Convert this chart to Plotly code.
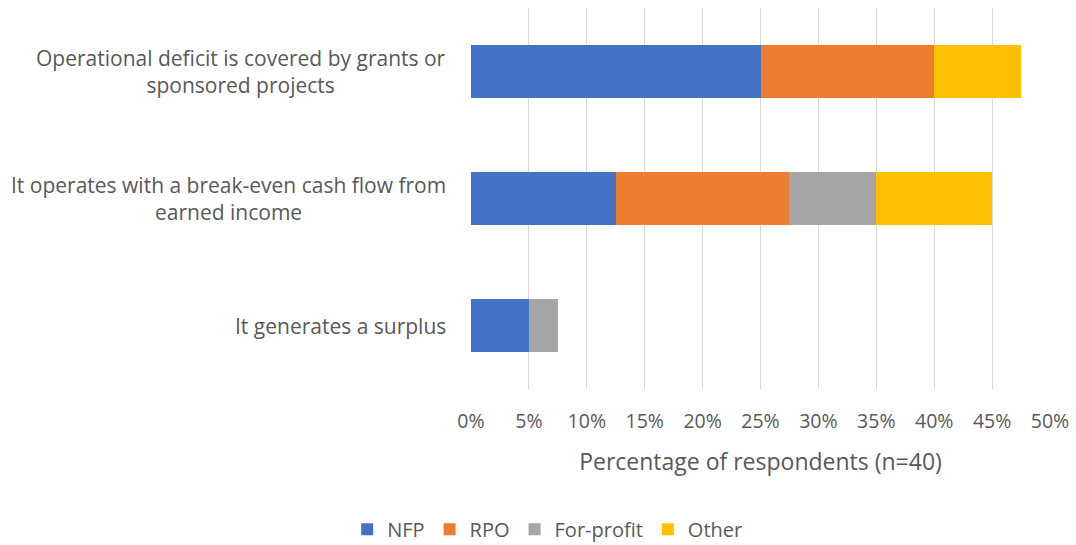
import plotly.graph_objects as go

# Survey responses, share of respondents (n=40)
categories = [
    "Operational deficit is covered by grants or<br>sponsored projects",
    "It operates with a break-even cash flow from<br>earned income",
    "It generates a surplus",
]
nfp = [0.25, 0.125, 0.05]
rpo = [0.15, 0.15, 0.0]
for_profit = [0.0, 0.075, 0.025]
other = [0.075, 0.10, 0.0]

series = [
    ("NFP", nfp, "#4472C4"),
    ("RPO", rpo, "#ED7D31"),
    ("For-profit", for_profit, "#A5A5A5"),
    ("Other", other, "#FFC000"),
]

FONT = "Open Sans"
GREY = "#595959"

fig = go.Figure()
for name, vals, color in series:
    fig.add_trace(go.Bar(
        name=name, y=categories, x=vals, orientation="h",
        marker=dict(color=color, line=dict(width=0)),
        hovertemplate="%{x:.1%}<extra>" + name + "</extra>",
    ))

# Category labels, centred line by line, right edge near the plot
for cat in categories:
    fig.add_annotation(
        x=-0.039, xref="paper", y=cat, yref="y",
        text=cat, showarrow=False, xanchor="right", align="center",
        font=dict(family=FONT, size=21, color=GREY),
    )

fig.update_layout(
    barmode="stack",
    bargap=0.59,
    width=1076, height=545,
    margin=dict(l=471, r=26, t=8, b=156),
    paper_bgcolor="white", plot_bgcolor="white",
    font=dict(family=FONT, size=20, color=GREY),
    showlegend=True,
    legend=dict(
        orientation="h", xref="container", yref="container",
        x=0.509, y=0.029, xanchor="center", yanchor="middle",
        font=dict(family=FONT, size=20, color=GREY),
        itemwidth=30, traceorder="normal",
    ),
    xaxis=dict(
        range=[0, 0.5], dtick=0.05, tick0=0, tickformat=".0%",
        showgrid=True, gridcolor="#D9D9D9", gridwidth=1,
        zeroline=False, showline=False, ticks="",
        ticklabelstandoff=18,
        tickfont=dict(family=FONT, size=19.5, color=GREY),
        title=dict(text="Percentage of respondents (n=40)", standoff=21,
                   font=dict(family=FONT, size=23, color=GREY)),
        fixedrange=True,
    ),
    yaxis=dict(
        categoryorder="array", categoryarray=categories,
        autorange="reversed", showticklabels=False,
        showgrid=False, zeroline=False, showline=False, ticks="",
        fixedrange=True,
    ),
)

fig.write_html("out.html")
